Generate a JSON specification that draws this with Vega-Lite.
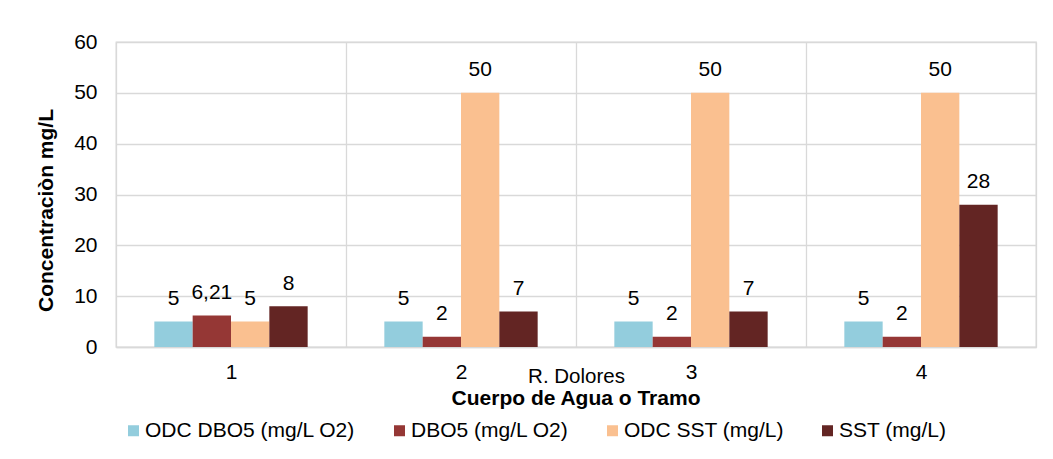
{
  "$schema": "https://vega.github.io/schema/vega-lite/v6.json",
  "autosize": {"type": "none"},
  "padding": {"left": 116, "top": 42, "right": 17, "bottom": 112},
  "width": 920,
  "height": 305,
  "background": "white",
  "data": {
    "values": [
      {"tramo": "1", "serie": "ODC DBO5 (mg/L O2)", "valor": 5},
      {"tramo": "1", "serie": "DBO5 (mg/L O2)", "valor": 6.21},
      {"tramo": "1", "serie": "ODC SST (mg/L)", "valor": 5},
      {"tramo": "1", "serie": "SST  (mg/L)", "valor": 8},
      {"tramo": "2", "serie": "ODC DBO5 (mg/L O2)", "valor": 5},
      {"tramo": "2", "serie": "DBO5 (mg/L O2)", "valor": 2},
      {"tramo": "2", "serie": "ODC SST (mg/L)", "valor": 50},
      {"tramo": "2", "serie": "SST  (mg/L)", "valor": 7},
      {"tramo": "3", "serie": "ODC DBO5 (mg/L O2)", "valor": 5},
      {"tramo": "3", "serie": "DBO5 (mg/L O2)", "valor": 2},
      {"tramo": "3", "serie": "ODC SST (mg/L)", "valor": 50},
      {"tramo": "3", "serie": "SST  (mg/L)", "valor": 7},
      {"tramo": "4", "serie": "ODC DBO5 (mg/L O2)", "valor": 5},
      {"tramo": "4", "serie": "DBO5 (mg/L O2)", "valor": 2},
      {"tramo": "4", "serie": "ODC SST (mg/L)", "valor": 50},
      {"tramo": "4", "serie": "SST  (mg/L)", "valor": 28}
    ]
  },
  "title": {
    "text": "Cuerpo de Agua o Tramo",
    "orient": "bottom",
    "anchor": "middle",
    "fontSize": 21,
    "fontWeight": "bold",
    "color": "#000000",
    "offset": 2,
    "dy": -55
  },
  "encoding": {
    "x": {
      "field": "tramo",
      "type": "nominal",
      "sort": ["1", "2", "3", "4"],
      "scale": {"paddingInner": 0, "paddingOuter": 0},
      "axis": {
        "title": "R. Dolores",
        "titleFontWeight": "normal",
        "titleFontSize": 20.5,
        "titleColor": "#000000",
        "titleBaseline": "alphabetic",
        "titleX": 460,
        "titleY": 35,
        "labelAngle": 0,
        "labelFontSize": 21,
        "labelColor": "#000000",
        "labelBaseline": "alphabetic",
        "labelPadding": 31,
        "ticks": false,
        "tickSize": 0,
        "tickBand": "extent",
        "grid": true,
        "gridColor": "#d9d9d9",
        "gridWidth": 1.3,
        "domainColor": "#d9d9d9",
        "domainWidth": 1.3
      }
    },
    "xOffset": {
      "field": "serie",
      "type": "nominal",
      "sort": ["ODC DBO5 (mg/L O2)", "DBO5 (mg/L O2)", "ODC SST (mg/L)", "SST  (mg/L)"],
      "scale": {"paddingInner": 0, "paddingOuter": 1.12}
    },
    "y": {
      "field": "valor",
      "type": "quantitative",
      "scale": {"domain": [0, 60], "nice": false},
      "axis": {
        "title": "Concentraciòn mg/L",
        "titleFontSize": 21,
        "titleFontWeight": "bold",
        "titleColor": "#000000",
        "titleX": -70,
        "titleY": 168,
        "titleBaseline": "middle",
        "titleAlign": "center",
        "titleAngle": -90,
        "values": [0, 10, 20, 30, 40, 50, 60],
        "format": "d",
        "labelFontSize": 21,
        "labelColor": "#000000",
        "labelPadding": 19,
        "ticks": false,
        "tickSize": 0,
        "domain": false,
        "grid": true,
        "gridColor": "#d9d9d9",
        "gridWidth": 1.3
      }
    }
  },
  "layer": [
    {
      "mark": {"type": "bar"},
      "encoding": {
        "color": {
          "field": "serie",
          "type": "nominal",
          "scale": {
            "domain": ["ODC DBO5 (mg/L O2)", "DBO5 (mg/L O2)", "ODC SST (mg/L)", "SST  (mg/L)"],
            "range": ["#93CDDD", "#953735", "#FAC090", "#632523"]
          },
          "legend": {
            "title": null,
            "orient": "none",
            "legendX": 7,
            "legendY": 378,
            "direction": "horizontal",
            "columns": 4,
            "columnPadding": 33,
            "symbolType": "square",
            "symbolSize": 121,
            "symbolStrokeWidth": 0,
            "labelFontSize": 21,
            "labelColor": "#000000",
            "labelOffset": 1,
            "labelLimit": 400,
            "padding": 0
          }
        }
      }
    },
    {
      "mark": {"type": "text", "baseline": "alphabetic", "dy": -16.5, "fontSize": 21, "color": "#000000"},
      "encoding": {
        "text": {"field": "valor", "type": "quantitative", "format": "~g"}
      }
    }
  ],
  "config": {
    "font": "Liberation Sans",
    "view": {"stroke": "#d9d9d9", "strokeWidth": 1.3},
    "locale": {"number": {"decimal": ",", "thousands": ".", "grouping": [3], "currency": ["", " €"]}}
  }
}
